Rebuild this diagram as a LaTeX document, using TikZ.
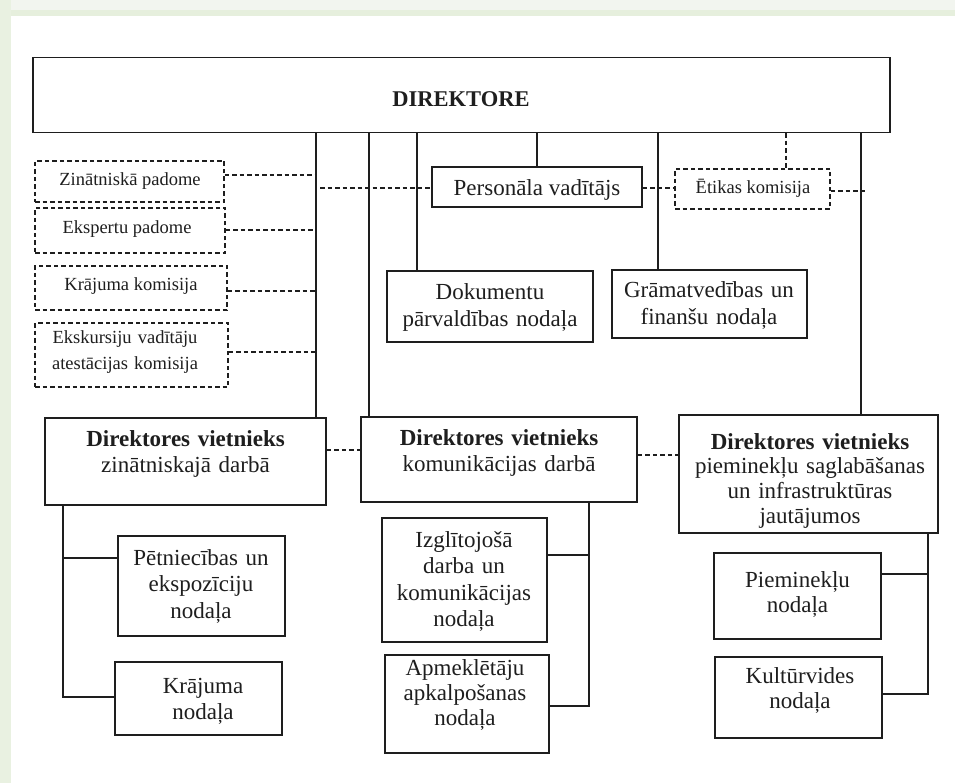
\documentclass[tikz,border=0pt]{standalone}
\usepackage{fontspec}
\setmainfont{Liberation Serif}
\definecolor{ink}{HTML}{1E1E1E}
\definecolor{bandA}{HTML}{F2F5EF}
\definecolor{bandB}{HTML}{E6EFDD}
\definecolor{sideband}{HTML}{E9F1E1}
\begin{document}
\begin{tikzpicture}[x=1pt,y=-1pt,
  bx/.style={draw=ink, line width=1.5pt, inner sep=0pt, fill=white},
  dbx/.style={draw=ink, line width=1.3pt, dash pattern=on 4.5pt off 3pt, inner sep=0pt},
  maintxt/.style={font=\fontsize{23}{26.5}\selectfont, align=center, inner sep=0pt, anchor=base, text=ink},
  smalltxt/.style={font=\fontsize{18.5}{25}\selectfont, align=center, inner sep=0pt, anchor=base, text=ink},
  trunk/.style={draw=ink, line width=2.2pt},
  dline/.style={draw=ink, line width=1.3pt, dash pattern=on 4.5pt off 3pt},
  twig/.style={draw=ink, line width=1.1pt}]
\useasboundingbox (0,0) rectangle (955,783);
\fill[bandA] (0,0) rectangle (955,10);
\fill[bandB] (0,10) rectangle (955,16);
\fill[sideband] (0,0) rectangle (11,783);
\fill[white] (11,16) rectangle (955,783);

% helper coordinates
\coordinate (xa) at (316,0);
\coordinate (xb) at (369,0);
\coordinate (xc) at (417,0);
\coordinate (xd) at (537,0);
\coordinate (xe) at (658,0);
\coordinate (xf) at (786,0);
\coordinate (xg) at (861,0);
\coordinate (b1) at (63,0);
\coordinate (b2) at (589,0);
\coordinate (b3) at (928,0);
\coordinate (yzin) at (0,175);
\coordinate (yeksp) at (0,230);
\coordinate (ykraj) at (0,291);
\coordinate (yeksk) at (0,352);
\coordinate (ypers) at (0,188);
\coordinate (yetik) at (0,191);
\coordinate (yv12) at (0,450);
\coordinate (yv23) at (0,455);
\coordinate (ypet) at (0,558);
\coordinate (ykrn) at (0,697);
\coordinate (yizg) at (0,555);
\coordinate (yapm) at (0,706);
\coordinate (ypie) at (0,574);
\coordinate (ykul) at (0,694);

% boxes
\node[bx, minimum width=857, minimum height=75] (dir) at (461.5,95) {};
\node[dbx, minimum width=189, minimum height=41] (zin) at (129.5,181.5) {};
\node[dbx, minimum width=190, minimum height=45] (eksp) at (130,230.5) {};
\node[dbx, minimum width=192, minimum height=44] (kraj) at (131,288) {};
\node[dbx, minimum width=193, minimum height=64] (eksk) at (131.5,355) {};
\node[bx, minimum width=210, minimum height=40] (pers) at (537,187) {};
\node[dbx, minimum width=155, minimum height=40] (etik) at (752.5,189) {};
\node[bx, minimum width=206, minimum height=71] (dok) at (490,306.5) {};
\node[bx, minimum width=195, minimum height=68] (gram) at (709.5,304) {};
\node[bx, minimum width=281, minimum height=87] (dv1) at (185.5,461.5) {};
\node[bx, minimum width=276, minimum height=85] (dv2) at (499,459.5) {};
\node[bx, minimum width=259, minimum height=118] (dv3) at (808.5,474) {};
\node[bx, minimum width=167, minimum height=100] (petn) at (201.5,586) {};
\node[bx, minimum width=167, minimum height=73] (krn) at (198.5,698.5) {};
\node[bx, minimum width=165, minimum height=124] (izgl) at (464.5,580) {};
\node[bx, minimum width=164, minimum height=98] (apm) at (467,704) {};
\node[bx, minimum width=167, minimum height=86] (piem) at (797.5,596) {};
\node[bx, minimum width=167, minimum height=81] (kult) at (798.5,697.5) {};

% texts
\node[maintxt, font=\fontsize{22.5}{26.5}\selectfont\bfseries] (dirT) at (461,107) {DIREKTORE};
\node[smalltxt] (zinT) at (130,186) {Zinātniskā padome};
\node[smalltxt] (ekspT) at (127,234) {Ekspertu padome};
\node[smalltxt] (krajT) at (131,291) {Krājuma komisija};
\node[smalltxt, text width=190] (ekskT) at (125,344) {Ekskursiju vadītāju\\atestācijas komisija};
\node[maintxt] (persT) at (537,196) {Personāla vadītājs};
\node[smalltxt] (etikT) at (753,194) {Ētikas komisija};
\node[maintxt, text width=206] (dokT) at (490,300) {Dokumentu\\pārvaldības nodaļa};
\node[maintxt, text width=195] (gramT) at (709,298) {Grāmatvedības un\\finanšu nodaļa};
\node[maintxt, text width=281] (dv1T) at (185.5,446) {\textbf{Direktores vietnieks}\\zinātniskajā darbā};
\node[maintxt, text width=276] (dv2T) at (499,445) {\textbf{Direktores vietnieks}\\komunikācijas darbā};
\node[maintxt, text width=259, font=\fontsize{23}{24.7}\selectfont] (dv3T) at (810,449) {\textbf{Direktores vietnieks}\\pieminekļu saglabāšanas\\un infrastruktūras\\jautājumos};
\node[maintxt, text width=167] (petnT) at (201,565) {Pētniecības un\\ekspozīciju\\nodaļa};
\node[maintxt, text width=167] (krnT) at (203,693) {Krājuma\\nodaļa};
\node[maintxt, text width=165] (izglT) at (464,547) {Izglītojošā\\darba un\\komunikācijas\\nodaļa};
\node[maintxt, text width=164, font=\fontsize{23}{25}\selectfont] (apmT) at (465,675) {Apmeklētāju\\apkalpošanas\\nodaļa};
\node[maintxt, text width=167, font=\fontsize{23}{25}\selectfont] (piemT) at (797.5,587) {Pieminekļu\\nodaļa};
\node[maintxt, text width=167, font=\fontsize{23}{25}\selectfont] (kultT) at (800,683) {Kultūrvides\\nodaļa};

% solid trunks from the director
\draw[trunk] (dir.south -| xa) -- (dv1.north -| xa);
\draw[trunk] (dir.south -| xb) -- (dv2.north -| xb);
\draw[trunk] (dir.south -| xc) -- (dok.north -| xc);
\draw[trunk] (dir.south -| xd) -- (pers.north -| xd);
\draw[trunk] (dir.south -| xe) -- (gram.north -| xe);
\draw[trunk] (dir.south -| xg) -- (dv3.north -| xg);
\draw[dline] (dir.south -| xf) -- (etik.north -| xf);

% dashed links
\draw[dline] (zin.east |- yzin) -- (xa |- yzin);
\draw[dline] (eksp.east |- yeksp) -- (xa |- yeksp);
\draw[dline] (kraj.east |- ykraj) -- (xa |- ykraj);
\draw[dline] (eksk.east |- yeksk) -- (xa |- yeksk);
\draw[dline] ([xshift=4pt]xa |- ypers) -- (pers.west |- ypers);
\draw[dline] (pers.east |- ypers) -- (etik.west |- ypers);
\draw[dline] (etik.east |- yetik) -- ([xshift=5pt]xg |- yetik);
\draw[dline] (dv1.east |- yv12) -- (dv2.west |- yv12);
\draw[dline] (dv2.east |- yv23) -- (dv3.west |- yv23);

% branches to departments
\draw[twig] (dv1.south -| b1) -- (b1 |- ykrn) -- (krn.west |- ykrn);
\draw[twig] (b1 |- ypet) -- (petn.west |- ypet);
\draw[twig] (dv2.south -| b2) -- (b2 |- yapm) -- (apm.east |- yapm);
\draw[twig] (b2 |- yizg) -- (izgl.east |- yizg);
\draw[twig] (dv3.south -| b3) -- (b3 |- ykul) -- (kult.east |- ykul);
\draw[twig] (b3 |- ypie) -- (piem.east |- ypie);
\end{tikzpicture}
\end{document}
